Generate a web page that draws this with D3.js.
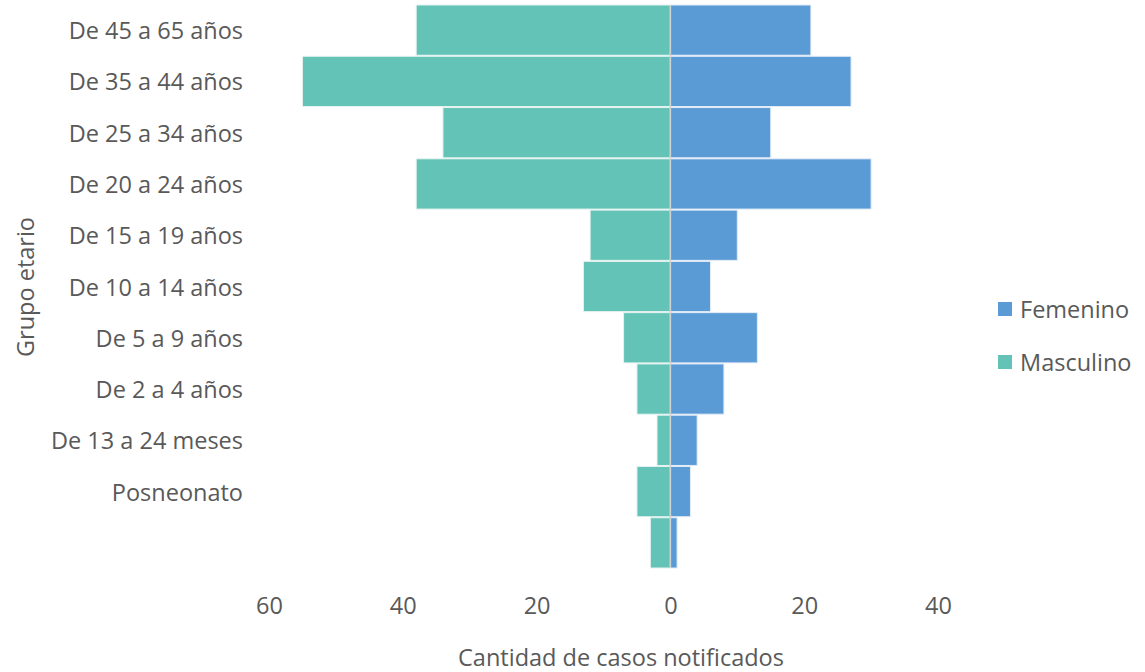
<!DOCTYPE html>
<html>
<head>
<meta charset="utf-8">
<script src="https://cdn.jsdelivr.net/npm/d3@7"></script>
<style>
  html, body { margin: 0; padding: 0; background: #ffffff; }
  svg text { font-family: "Open Sans", "Noto Sans", sans-serif; fill: #595959; }
</style>
</head>
<body>
<svg id="chart" width="1145" height="672"></svg>
<script>
// Age groups, top to bottom (last group has no label)
const categories = [
  "De 45 a 65 años",
  "De 35 a 44 años",
  "De 25 a 34 años",
  "De 20 a 24 años",
  "De 15 a 19 años",
  "De 10 a 14 años",
  "De 5 a 9 años",
  "De 2 a 4 años",
  "De 13 a 24 meses",
  "Posneonato",
  ""
];

// Notified cases per group
const femenino  = [21, 27, 15, 30, 10, 6, 13, 8, 4, 3, 1];
const masculino = [38, 55, 34, 38, 12, 13, 7, 5, 2, 5, 3];

const tickValues = [-60, -40, -20, 0, 20, 40];
const seriesNames = ["Femenino", "Masculino"];
const seriesColors = { Femenino: "#5b9bd5", Masculino: "#63c3b6" };

const fontSize = "23.5px";

const svg = d3.select("#chart");

const x = d3.scaleLinear().domain([-60, 40]).range([269, 938]);
const y = d3.scaleBand().domain(categories.map((c, i) => i)).range([5, 568]).paddingInner(0.02);

const rows = categories.map((c, i) => ({ i, label: c, f: femenino[i], m: masculino[i] }));

// Masculino bars extend to the left of zero
svg.append("g").selectAll("rect").data(rows).join("rect")
  .attr("x", d => x(-d.m))
  .attr("y", d => y(d.i))
  .attr("width", d => x(0) - x(-d.m))
  .attr("height", y.bandwidth())
  .attr("fill", seriesColors.Masculino)
  .attr("stroke", "#e6f3f1")
  .attr("stroke-width", 1);

// Femenino bars extend to the right
svg.append("g").selectAll("rect").data(rows).join("rect")
  .attr("x", x(0))
  .attr("y", d => y(d.i))
  .attr("width", d => x(d.f) - x(0))
  .attr("height", y.bandwidth())
  .attr("fill", seriesColors.Femenino)
  .attr("stroke", "#e3edf8")
  .attr("stroke-width", 1);

// Zero line
svg.append("line")
  .attr("x1", x(0)).attr("x2", x(0))
  .attr("y1", 5).attr("y2", 568)
  .attr("stroke", "#d0d0d0").attr("stroke-width", 1.5);

// Category labels
svg.append("g").selectAll("text").data(rows).join("text")
  .attr("x", 243)
  .attr("y", d => y(d.i) + y.bandwidth() / 2)
  .attr("text-anchor", "end")
  .attr("dominant-baseline", "central")
  .style("font-size", fontSize)
  .text(d => d.label);

// Value axis (absolute counts on both sides)
const xAxis = d3.axisBottom(x)
  .tickValues(tickValues)
  .tickSize(0)
  .tickPadding(0)
  .tickFormat(v => Math.abs(v));
const gx = svg.append("g").attr("transform", "translate(0,594)").call(xAxis);
gx.select(".domain").remove();
gx.selectAll("text")
  .attr("dy", null)
  .attr("y", 11)
  .attr("dominant-baseline", "central")
  .style("font-size", fontSize)
  .style("font-family", "\"Open Sans\", \"Noto Sans\", sans-serif")
  .attr("fill", "#595959");

// Axis titles
svg.append("text")
  .attr("x", 621).attr("y", 657)
  .attr("text-anchor", "middle")
  .attr("dominant-baseline", "central")
  .style("font-size", fontSize)
  .text("Cantidad de casos notificados");

svg.append("text")
  .attr("transform", "translate(25,287) rotate(-90)")
  .attr("text-anchor", "middle")
  .attr("dominant-baseline", "central")
  .style("font-size", fontSize)
  .text("Grupo etario");

// Legend
const legend = svg.append("g").selectAll("g").data(seriesNames).join("g")
  .attr("transform", (d, i) => `translate(998,${309 + i * 53})`);
legend.append("rect")
  .attr("x", 0).attr("y", -7)
  .attr("width", 14).attr("height", 14)
  .attr("fill", d => seriesColors[d]);
legend.append("text")
  .attr("x", 22).attr("y", 0)
  .attr("dominant-baseline", "central")
  .style("font-size", fontSize)
  .text(d => d);
</script>
</body>
</html>
